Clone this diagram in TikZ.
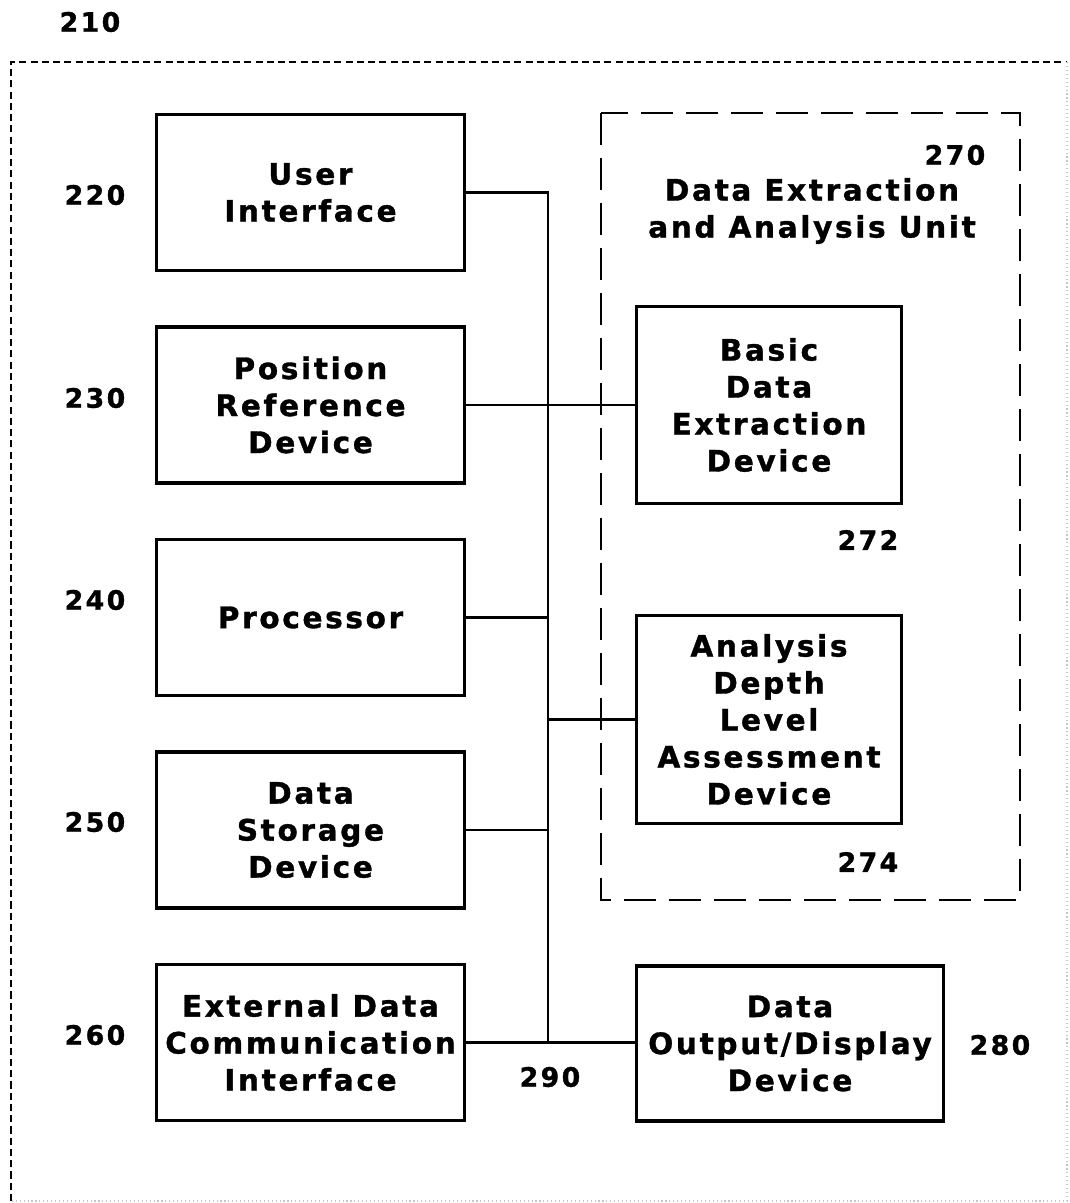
\documentclass[tikz,border=0pt]{standalone}
\usepackage{fontspec}
\setmainfont{DejaVu Sans}[LetterSpace=9, BoldFeatures={FakeBold=1.2}]
\usetikzlibrary{positioning}

\begin{document}
\begin{tikzpicture}[x=0.025cm, y=-0.025cm,
        font=\fontsize{21}{26.3}\selectfont\bfseries,
        block/.style={draw, line width=2.6pt, align=center, inner sep=0pt, minimum width=7.7cm, minimum height=3.9cm},
        subblock/.style={block, minimum width=6.62cm},
        refnum/.style={font=\fontsize{19}{22}\selectfont\bfseries},
        bus/.style={line width=1.9pt},
        unitframe/.style={line width=1.5pt, dash pattern=on 23pt off 9pt},
        frame/.style={line width=0.8pt, dash pattern=on 5pt off 3pt}]
        \useasboundingbox (0,0) rectangle (1070,1203);

        % outer frame
        \draw[frame] (11,1201) -- (11,62) -- (1067,62);
        \draw[frame, gray!45, dotted] (1067,62) -- (1067,1201) -- (11,1201);
        \node[refnum] (n210) at (90,22) {210};

        % left column
        \node[block] (ui) at (310.5,192.5) {User\\Interface};
        \node[block, below=1.32cm of ui] (pos) {Position\\Reference\\Device};
        \node[block, below=1.32cm of pos] (proc) {Processor};
        \node[block, below=1.32cm of proc] (dsd) {Data\\Storage\\Device};
        \node[block, below=1.32cm of dsd] (edc) {External Data\\Communication\\Interface};

        \node[refnum] (n220) at (95,195) {220};
        \node[refnum] (n230) at (95,398) {230};
        \node[refnum] (n240) at (95,600) {240};
        \node[refnum] (n250) at (95,822) {250};
        \node[refnum] (n260) at (95,1035) {260};

        % data extraction and analysis unit
        \draw[unitframe] (601,113) rectangle (1020,900);
        \node[refnum] (n270) at (955,155) {270};
        \node[align=center] (unit) at (812,211) {Data Extraction\\and Analysis Unit};
        \node[subblock, minimum height=4.92cm] (bde) at (769,405) {Basic\\Data\\Extraction\\Device};
        \node[subblock, minimum height=5.2cm] (adl) at (769,719.5) {Analysis\\Depth\\Level\\Assessment\\Device};
        \node[refnum] (n272) at (868,540) {272};
        \node[refnum] (n274) at (868,862) {274};

        \node[block, minimum width=7.67cm, minimum height=3.88cm] (dod) at (790,1043.5) {Data\\Output/Display\\Device};
        \node[refnum] (n280) at (1000,1045) {280};

        % bus 290
        \coordinate (busx) at (548,0);
        \draw[bus] (ui.east) -- (ui.east -| busx) -- (edc.east -| busx);
        \draw[bus] (pos.east) -- (pos.east -| bde.west);
        \draw[bus] (proc.east) -- (proc.east -| busx);
        \draw[bus] (adl.west -| busx) -- (adl.west);
        \draw[bus] (dsd.east) -- (dsd.east -| busx);
        \draw[bus] (edc.east) -- (edc.east -| dod.west);
        \node[refnum] (n290) at (550,1077) {290};
\end{tikzpicture}
\end{document}
